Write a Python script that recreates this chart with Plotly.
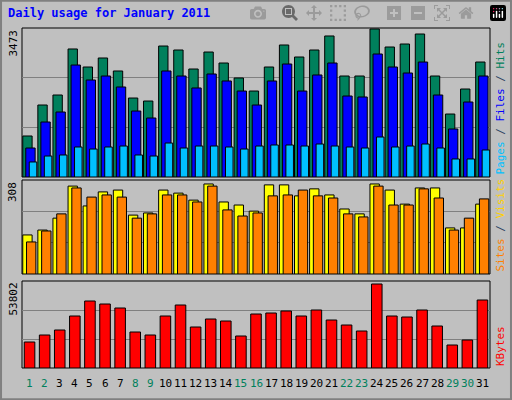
import plotly.graph_objects as go

days = list(range(1, 32))
hits = [956,1678,1911,2984,2564,2774,2471,1841,1771,3053,2960,2517,2913,2657,2308,2004,2564,3077,2797,2960,3287,2354,2354,3450,3030,3100,3333,2354,1468,2051,2680]
files = [676,1282,1515,2610,2261,2354,2098,1538,1375,2471,2354,2075,2401,2238,2004,1678,2238,2634,2004,2378,2657,1888,1865,2867,2564,2424,2680,1911,1119,1748,2354]
pages = [350,489,513,699,652,699,722,513,489,792,676,722,722,699,652,722,746,746,722,769,722,699,676,932,699,722,769,676,420,420,629]
visits = [128,144,183,288,223,269,275,193,200,275,265,242,295,236,226,206,292,292,256,279,259,213,197,295,275,229,282,282,151,151,229]
sites = [105,141,197,282,252,259,252,183,197,259,259,236,288,210,190,200,256,259,275,256,249,197,187,288,226,226,279,249,144,183,246]
kbytes = [16079,20408,23500,32157,41434,39579,37105,22263,20408,32157,38960,25355,30302,29066,19789,33394,34013,35250,32157,35868,29684,26592,22881,51946,32157,31539,35868,25973,14224,17316,42052]
weekend = {1,2,8,9,15,16,22,23,29,30}
max1, max2, max3 = 3473, 308, 53802

fig = go.Figure()
line = dict(color="black", width=1)
def bar(y, color, off, w, ax):
    fig.add_trace(go.Bar(x=days, y=y, marker=dict(color=color, line=line),
                         offset=off, width=w, xaxis=ax[0], yaxis=ax[1], showlegend=False))
bar(hits, "#00805C", -0.45, 0.62, ("x", "y"))
bar(files, "#0000FF", -0.25, 0.62, ("x", "y"))
bar(pages, "#00C0FF", -0.02, 0.5, ("x", "y"))
bar(visits, "#FFFF00", -0.45, 0.62, ("x2", "y2"))
bar(sites, "#FF8000", -0.2, 0.62, ("x2", "y2"))
bar(kbytes, "#FF0000", -0.35, 0.7, ("x3", "y3"))

xd = [22/512, 490/512]
doms = [[1-177/400, 1-28/400], [1-274/400, 1-180/400], [1-368/400, 1-281/400]]
maxes = [max1, max2, max3]
for i in range(3):
    s = "" if i == 0 else str(i+1)
    fig.layout["xaxis"+s] = dict(domain=xd, range=[0.5, 31.5], showticklabels=False, showgrid=False,
                                 zeroline=False, anchor="y"+s, ticks="")
    fig.layout["yaxis"+s] = dict(domain=doms[i], range=[0, maxes[i]], anchor="x"+s,
                                 tickvals=[maxes[i]/3, 2*maxes[i]/3], showticklabels=False,
                                 gridcolor="#808080", gridwidth=1, zeroline=False)
    y0, y1 = doms[i]
    fig.add_shape(type="rect", xref="paper", yref="paper", x0=xd[0], x1=xd[1], y0=y0, y1=y1,
                  line=dict(color="black", width=1), layer="below", fillcolor="#C0C0C0")
    fig.add_annotation(x=13/512, y=y1, xref="paper", yref="paper", text=str(maxes[i]), textangle=-90,
                       showarrow=False, xanchor="center", yanchor="top",
                       font=dict(family="DejaVu Sans Mono", size=11, color="black"))

rl = ['<span style="color:#00C0FF">Pages</span> / <span style="color:#0000FF">Files</span> / <span style="color:#00805C">Hits</span>',
      '<span style="color:#FF8000">Sites</span> / <span style="color:#FFD000">Visits</span>',
      '<span style="color:#FF0000">KBytes</span>']
for i in range(3):
    fig.add_annotation(x=500/512, y=doms[i][0], xref="paper", yref="paper", text=rl[i], textangle=-90,
                       showarrow=False, xanchor="center", yanchor="bottom",
                       font=dict(family="DejaVu Sans Mono", size=11))

for d in days:
    fig.add_annotation(x=d, y=1-392/400, xref="x3", yref="paper", text=str(d), showarrow=False,
                       yanchor="bottom", font=dict(family="DejaVu Sans Mono", size=11,
                       color="#00805C" if d in weekend else "black"))

fig.add_annotation(x=6/512, y=1-4/400, xref="paper", yref="paper", text="<b>Daily usage for January 2011</b>",
                   showarrow=False, xanchor="left", yanchor="top",
                   font=dict(family="DejaVu Sans Mono", size=12, color="#0000FF"))
fig.add_shape(type="rect", xref="paper", yref="paper", x0=0.002, x1=0.998, y0=0.002, y1=0.998,
              line=dict(color="#808080", width=2))

fig.update_layout(width=512, height=400, margin=dict(l=0, r=0, t=0, b=0), barmode="overlay",
                  paper_bgcolor="#C0C0C0", plot_bgcolor="rgba(0,0,0,0)")
fig.write_html("out.html", post_script="document.body.style.margin='0';document.body.style.overflow='hidden';")
